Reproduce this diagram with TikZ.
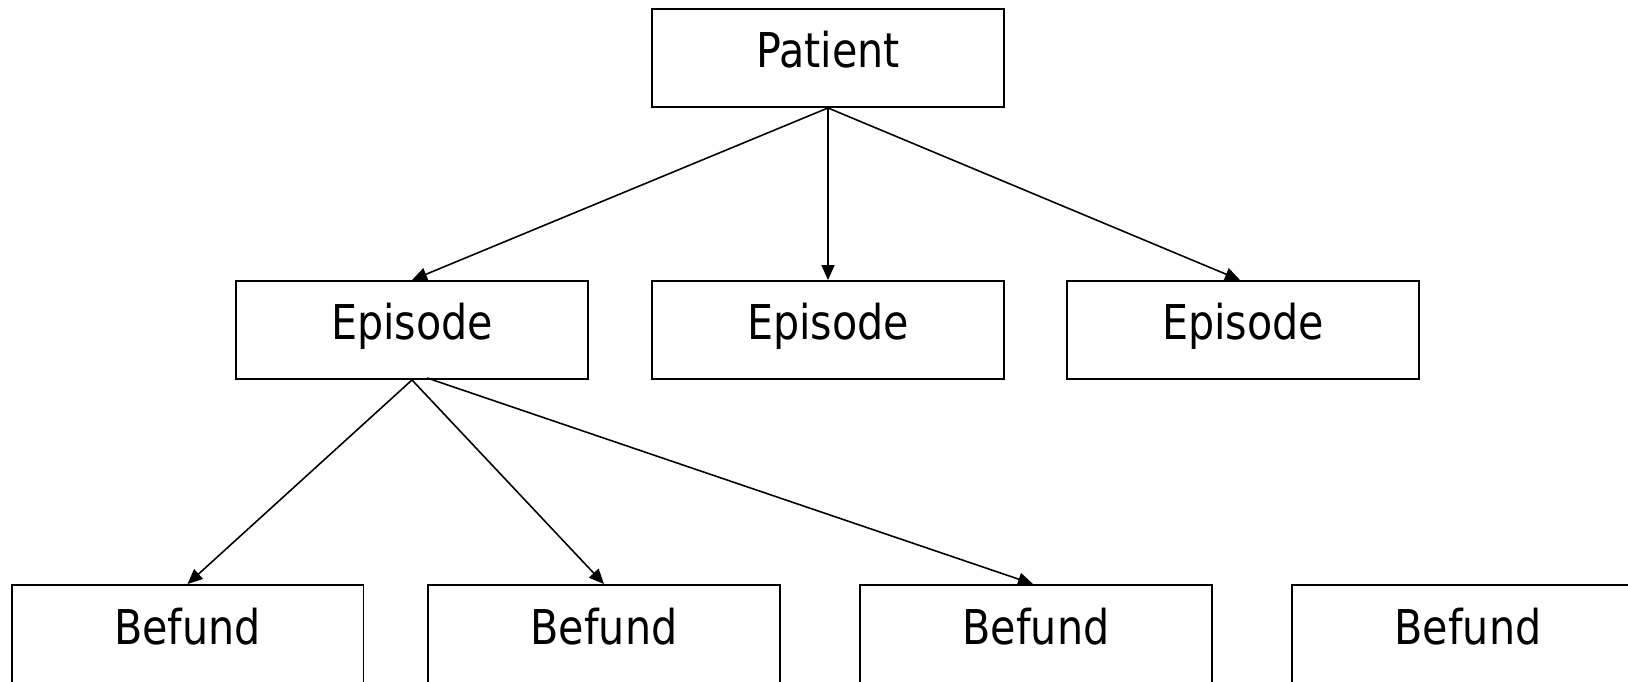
\documentclass[tikz,border=0pt]{standalone}
\usepackage{fontspec}
\setmainfont{DejaVu Sans}[FakeStretch=0.86]
\usetikzlibrary{arrows.meta,positioning}
\definecolor{ink}{HTML}{000000}
\tikzset{
  % ---- boxes -----------------------------------------------------
  entity/.style   = {rectangle, draw=ink, line width=1.1pt, fill=white,
                     inner xsep=0pt, inner ysep=0pt,
                     minimum width=7.04cm,
                     text height=1.18cm, text depth=0.78cm,
                     font=\fontsize{27.3}{32}\selectfont},
  % ---- links -----------------------------------------------------
  haslink/.style  = {draw=ink, line width=.9pt,
                     -{Triangle[length=3mm,width=2.6mm]}},
}
\begin{document}
\begin{tikzpicture}[x=0.02cm,y=-0.02cm]
  \useasboundingbox (0,0) rectangle (1628,682);
  \clip (0,0) rectangle (1628,682);
  \node[entity] (patient) at (828,58) {Patient};
  \node[entity] (ep1) at (412,330) {Episode};
  \node[entity] (ep2) at (828,330) {Episode};
  \node[entity] (ep3) at (1243,330) {Episode};
  \node[entity] (bef1) at (187.5,634) {Befund};
  \node[entity] (bef2) at (604,634) {Befund};
  \node[entity] (bef3) at (1036,634) {Befund};
  \node[entity] (bef4) at (1468,634) {Befund};
  \draw[haslink] (patient.south) -- (ep1.north);
  \draw[haslink] (patient.south) -- (ep2.north);
  \draw[haslink] (patient.south) -- ([xshift=-0.06cm]ep3.north);
  \draw[haslink] (ep1.south) -- (bef1.north);
  \draw[haslink] (ep1.south) -- (bef2.north);
  \draw[haslink] ([xshift=0.3cm,yshift=0.04cm]ep1.south) -- ([xshift=-0.06cm]bef3.north);
\end{tikzpicture}
\end{document}
